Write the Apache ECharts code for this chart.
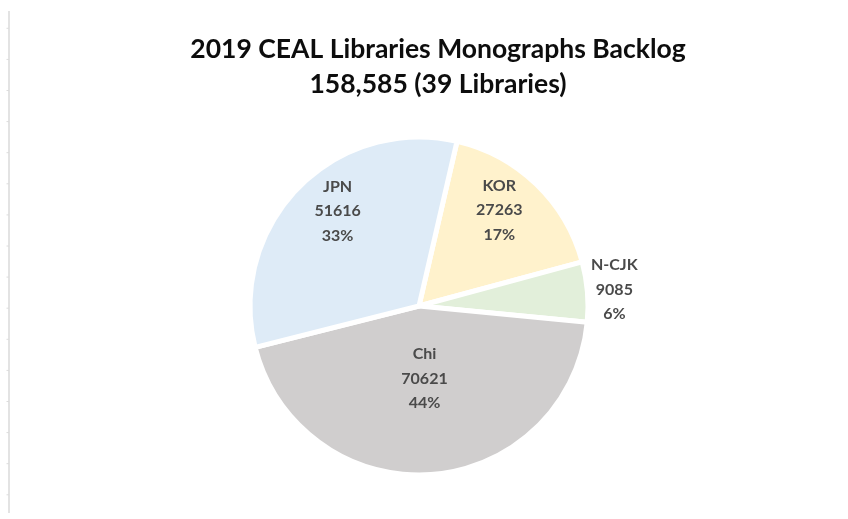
<!DOCTYPE html>
<html>
<head>
<meta charset="utf-8">
<script src="https://cdn.jsdelivr.net/npm/echarts@6/dist/echarts.min.js"></script>
<style>
  html, body { margin: 0; padding: 0; background: #fff; }
  #pieChart { width: 848px; height: 519px; }
</style>
</head>
<body>
<div id="pieChart"></div>
<script type="text/javascript">
// data, clockwise from the top
const categories = ['KOR', 'N-CJK', 'Chi', 'JPN']
const backlog = [27263, 9085, 70621, 51616]
const sliceColors = ['#fff2cc', '#e2efda', '#d0cece', '#deebf7']
// where each label sits: share of the radius, and a small turn in degrees
const labelRadius = [0.74, 1.16, 0.43, 0.74]
const labelTurn = [-4, 0, 0, 5]

const CX = 419, CY = 306, R = 169
const START = 13 // degrees clockwise from 12 o'clock

const total = backlog.reduce((a, b) => a + b, 0)
const midAngles = []
let acc = 0
backlog.forEach(v => {
    midAngles.push(START + 360 * (acc + v / 2) / total)
    acc += v
})

// the faint sheet edge on the left
const frame = [{
    type: 'line',
    shape: { x1: 9, y1: 11, x2: 9, y2: 513 },
    style: { stroke: '#e3e3e3', lineWidth: 2 }
}]
for (let i = 0; i < 16; i++) {
    const y = 28.3 + i * 31.1
    frame.push({
        type: 'line',
        shape: { x1: 6.5, y1: y, x2: 9, y2: y },
        style: { stroke: '#dcdcdc', lineWidth: 1 }
    })
}

const pieOption = {
    backgroundColor: '#fff',
    animation: false,
    title: {
        text: '2019 CEAL Libraries Monographs Backlog\n158,585 (39 Libraries)',
        left: 433,
        textAlign: 'center',
        top: 27,
        textStyle: {
            fontFamily: 'Lato',
            fontWeight: 'bold',
            fontSize: 26.5,
            lineHeight: 35,
            color: '#0d0d0d'
        }
    },
    graphic: frame,
    series: [{
        type: 'pie',
        center: [CX, CY],
        radius: R,
        startAngle: 90 - START,
        clockwise: true,
        percentPrecision: 0,
        avoidLabelOverlap: false,
        emphasis: { disabled: true },
        itemStyle: { borderColor: '#fff', borderWidth: 5 },
        label: {
            position: 'inside',
            formatter: '{b}\n{c}\n{d}%',
            fontFamily: 'Lato',
            fontWeight: 'bold',
            fontSize: 16,
            lineHeight: 24.5,
            color: '#4a4a4a'
        },
        labelLine: { show: false },
        labelLayout: function (p) {
            const a = (midAngles[p.dataIndex] + labelTurn[p.dataIndex]) * Math.PI / 180
            const r = R * labelRadius[p.dataIndex]
            return {
                x: CX + r * Math.sin(a),
                y: CY - r * Math.cos(a),
                align: 'center',
                verticalAlign: 'middle'
            }
        },
        data: categories.map((name, i) => ({
            name: name,
            value: backlog[i],
            itemStyle: { color: sliceColors[i] }
        }))
    }]
}

const pieChart = echarts.init(document.getElementById('pieChart'))
pieChart.setOption(pieOption)
</script>
</body>
</html>
